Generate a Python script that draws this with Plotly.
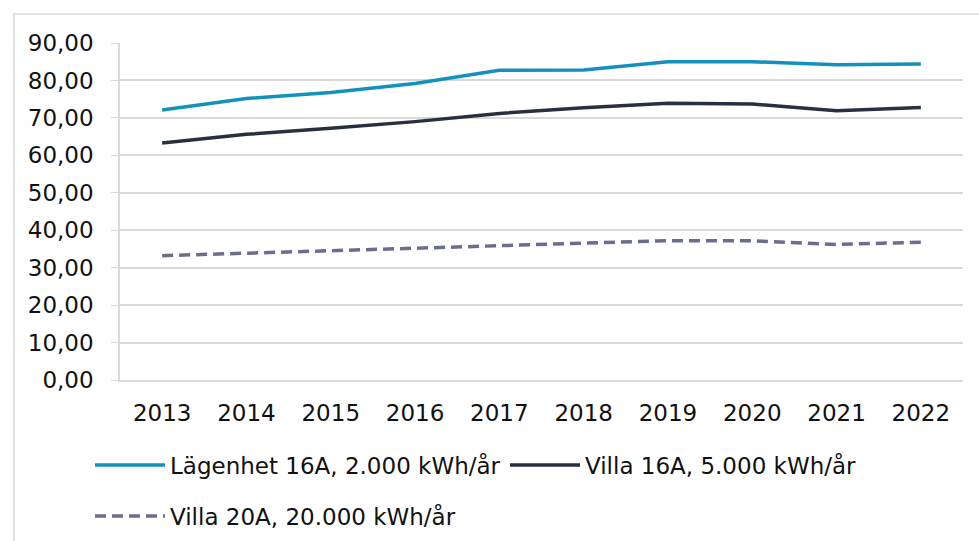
import plotly.graph_objects as go

years = ["2013", "2014", "2015", "2016", "2017", "2018", "2019", "2020", "2021", "2022"]
lagenhet_16a = [72.1, 75.2, 76.8, 79.2, 82.7, 82.8, 85.0, 85.0, 84.2, 84.4]
villa_16a = [63.3, 65.6, 67.2, 69.0, 71.2, 72.7, 73.9, 73.7, 71.9, 72.8]
villa_20a = [33.2, 33.9, 34.5, 35.1, 35.9, 36.6, 37.2, 37.2, 36.2, 36.8]
names = ["Lägenhet 16A, 2.000 kWh/år", "Villa 16A, 5.000 kWh/år", "Villa 20A, 20.000 kWh/år"]
colors = ["#1490BC", "#28303F", "#6B6D8C"]
dashes = ["solid", "solid", "11px,6px"]

W, H = 979, 541
L, R, T, B = 120, 16, 43, 161
pw, ph = W - L - R, H - T - B
FONT = "DejaVu Sans, Liberation Sans, Arial"

def px(x):
    return (x - L) / pw

def py(y):
    return (H - B - y) / ph

fig = go.Figure()
for vals, name, c, d in zip([lagenhet_16a, villa_16a, villa_20a], names, colors, dashes):
    fig.add_trace(go.Scatter(x=years, y=vals, name=name, mode="lines",
                             line=dict(color=c, width=3.5, dash=d), showlegend=False))

shapes = []
annotations = []
# chart border
shapes.append(dict(type="rect", xref="paper", yref="paper", x0=px(14), x1=px(990), y0=py(560), y1=py(14),
                   line=dict(color="#D9D9D9", width=1.5), layer="below"))
# manual legend
legend_items = [(95, 465, 0), (510, 465, 1), (95, 516, 2)]
for x0, y0, i in legend_items:
    shapes.append(dict(type="line", xref="paper", yref="paper", x0=px(x0), x1=px(x0 + 70), y0=py(y0), y1=py(y0),
                       line=dict(color=colors[i], width=3.5, dash=dashes[i])))
    annotations.append(dict(xref="paper", yref="paper", x=px(x0 + 76), y=py(y0), text=names[i], showarrow=False,
                            xanchor="left", yanchor="middle", xshift=-3,
                            font=dict(family=FONT, size=23, color="#111111")))

fig.update_layout(
    width=W, height=H,
    margin=dict(l=L, r=R, t=T, b=B),
    paper_bgcolor="white", plot_bgcolor="white",
    separators=",.",
    shapes=shapes, annotations=annotations,
    font=dict(family=FONT, size=23, color="#111111"),
    xaxis=dict(showgrid=False, showline=True, linecolor="#D9D9D9", linewidth=1.5,
               ticks="outside", tickcolor="white", ticklen=12,
               tickfont=dict(size=23), range=[-0.5, 9.5]),
    yaxis=dict(range=[0, 90], dtick=10, tickformat=".2f", showgrid=True, gridcolor="#D9D9D9", gridwidth=1.5,
               showline=True, linecolor="#D9D9D9", linewidth=1.5, zeroline=False,
               ticks="outside", tickcolor="#D9D9D9", ticklen=7, ticklabelstandoff=13,
               tickfont=dict(size=23)),
)

fig.write_html("out.html", config={"displayModeBar": False},
               post_script="document.body.style.margin='0';document.body.style.overflow='hidden';")
